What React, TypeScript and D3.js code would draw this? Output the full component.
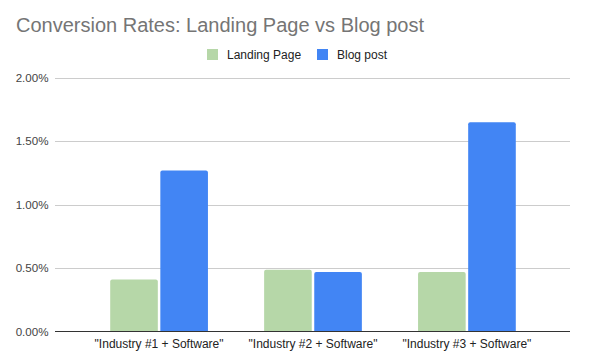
import React from "react";
import * as d3 from "d3";

const categories = ['"Industry #1 + Software"', '"Industry #2 + Software"', '"Industry #3 + Software"'];
const seriesNames = ["Landing Page", "Blog post"];
const landingPage = [0.41, 0.488, 0.47];
const blogPost = [1.27, 0.47, 1.65];
const yTicks = [0, 0.5, 1.0, 1.5, 2.0];
const colors = ["#b6d7a8", "#4285f4"];

const W = 591;
const H = 361;
const font = "'Liberation Sans', Arial, sans-serif";

function topRoundedRect(x: number, y: number, w: number, h: number, r: number) {
  const rr = Math.min(r, h, w / 2);
  return `M${x},${y + h}V${y + rr}Q${x},${y} ${x + rr},${y}H${x + w - rr}Q${x + w},${y} ${x + w},${y + rr}V${y + h}Z`;
}

export default function App() {
  const plotLeft = 55;
  const plotRight = 570;
  const y = d3.scaleLinear().domain([0, 2]).range([331.5, 78]);
  const x0 = d3.scaleBand<string>().domain(categories).range([82.5, 543.5]).paddingInner(0.365).paddingOuter(0.18);
  const x1 = d3.scaleBand<string>().domain(seriesNames).range([0, x0.bandwidth()]).paddingInner(0.05);
  const series = [landingPage, blogPost];
  const fmt = (v: number) => v.toFixed(2) + "%";
  const legendX = [207, 317];

  return (
    <svg width={W} height={H} style={{ position: "absolute", left: 0, top: 0, background: "#fff" }}>
      <rect x={0} y={0} width={W} height={H} fill="#fff" />
      <text x={16} y={32} fontFamily={font} fontSize={20} fill="#757575">
        Conversion Rates: Landing Page vs Blog post
      </text>
      {/* legend */}
      <g fontFamily={font} fontSize={12} fill="#222">
        {seriesNames.map((n, j) => (
          <g key={n}>
            <rect x={legendX[j]} y={49} width={11} height={11} fill={colors[j]} />
            <text x={legendX[j] + 20} y={58.5}>{n}</text>
          </g>
        ))}
      </g>
      {/* grid */}
      {yTicks.map((t) => (
        <g key={t}>
          {t !== 0 && (
            <line x1={plotLeft} x2={plotRight} y1={Math.round(y(t)) + 0.5} y2={Math.round(y(t)) + 0.5} stroke="#cccccc" strokeWidth={1} />
          )}
          <text x={48.5} y={y(t) + 4} textAnchor="end" fontFamily={font} fontSize={11.6} fill="#444">
            {fmt(t)}
          </text>
        </g>
      ))}
      {/* bars */}
      {categories.map((c, i) => (
        <g key={c}>
          {series.map((s, j) => {
            const bx = (x0(c) ?? 0) + (x1(seriesNames[j]) ?? 0);
            const by = y(s[i]);
            return (
              <path key={j} d={topRoundedRect(bx, by, x1.bandwidth(), y(0) - by, 2)} fill={colors[j]} />
            );
          })}
          <text x={(x0(c) ?? 0) + x0.bandwidth() / 2} y={347.5} textAnchor="middle" fontFamily={font} fontSize={12} fill="#222">
            {c}
          </text>
        </g>
      ))}
      <line x1={plotLeft} x2={plotRight} y1={331.5} y2={331.5} stroke="#333" strokeWidth={1} />
    </svg>
  );
}
